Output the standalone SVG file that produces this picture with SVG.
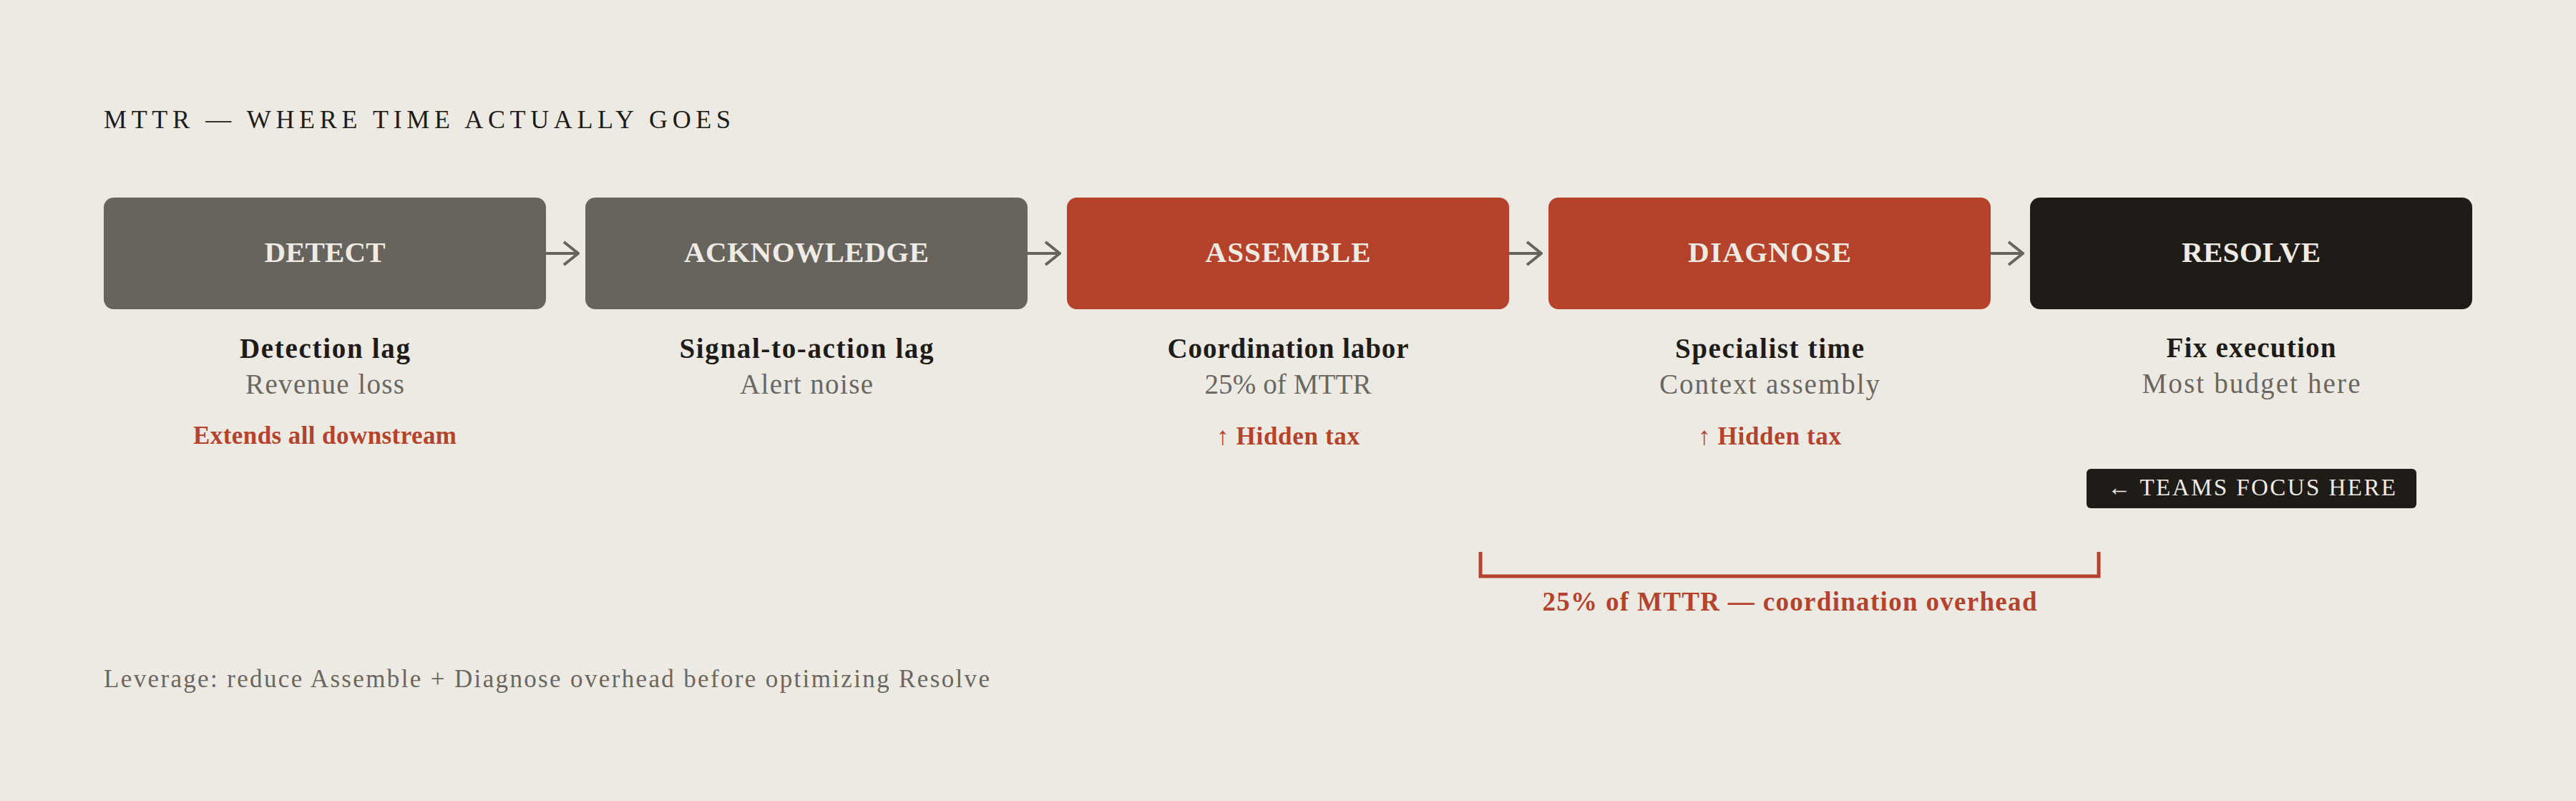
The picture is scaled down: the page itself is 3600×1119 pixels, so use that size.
<svg xmlns="http://www.w3.org/2000/svg" width="3600" height="1119" viewBox="0 0 3600 1119">
<defs>
<style>
text{font-family:"Liberation Serif","DejaVu Serif",serif}
.title{font-size:36px;fill:#1f1b16}
.box-grey{fill:#67635d}
.box-red{fill:#b5432b}
.box-dark{fill:#1f1b16}
.blabel{font-size:41px;font-weight:bold;fill:#efebe4;text-anchor:middle}
.head{font-size:39px;font-weight:bold;fill:#1f1b16;text-anchor:middle}
.sub{font-size:39px;fill:#6b6660;text-anchor:middle}
.note{font-size:35px;font-weight:bold;fill:#b5432b;text-anchor:middle}
.badge-t{font-size:33px;fill:#efebe4}
.brk-t{font-size:37px;font-weight:bold;fill:#b5432b;text-anchor:middle}
.foot{font-size:35px;fill:#6b6660}
.conn{stroke:#67635d;stroke-width:4;fill:none}
</style>
<marker id="chev" viewBox="0 0 24 36" refX="22" refY="18" markerWidth="24" markerHeight="36" markerUnits="userSpaceOnUse" orient="auto">
<path d="M2 2 L22 18 L2 34" fill="none" stroke="#67635d" stroke-width="4"/>
</marker>
</defs>
<rect width="3600" height="1119" fill="#edeae4"/>
<text class="title" x="145" y="179" textLength="876" lengthAdjust="spacing">MTTR — WHERE TIME ACTUALLY GOES</text>

<g id="connectors">
<line class="conn" x1="763" y1="354" x2="808" y2="354" marker-end="url(#chev)"/>
<line class="conn" x1="1436" y1="354" x2="1481" y2="354" marker-end="url(#chev)"/>
<line class="conn" x1="2109" y1="354" x2="2154" y2="354" marker-end="url(#chev)"/>
<line class="conn" x1="2782" y1="354" x2="2827" y2="354" marker-end="url(#chev)"/>
</g>

<g id="detect">
<rect class="box-grey" x="145" y="276" width="618" height="156" rx="14"/>
<text class="blabel" x="454" y="366" textLength="169" lengthAdjust="spacing">DETECT</text>
<text class="head" x="454" y="500" textLength="238" lengthAdjust="spacing">Detection lag</text>
<text class="sub" x="454" y="550" textLength="222" lengthAdjust="spacing">Revenue loss</text>
<text class="note" x="454" y="620" textLength="368" lengthAdjust="spacing">Extends all downstream</text>
</g>

<g id="acknowledge">
<rect class="box-grey" x="818" y="276" width="618" height="156" rx="14"/>
<text class="blabel" x="1127" y="366" textLength="342" lengthAdjust="spacing">ACKNOWLEDGE</text>
<text class="head" x="1127" y="500" textLength="355" lengthAdjust="spacing">Signal-to-action lag</text>
<text class="sub" x="1127" y="550" textLength="186" lengthAdjust="spacing">Alert noise</text>
</g>

<g id="assemble">
<rect class="box-red" x="1491" y="276" width="618" height="156" rx="14"/>
<text class="blabel" x="1800" y="366" textLength="231" lengthAdjust="spacing">ASSEMBLE</text>
<text class="head" x="1800" y="500" textLength="337" lengthAdjust="spacing">Coordination labor</text>
<text class="sub" x="1800" y="550" textLength="233" lengthAdjust="spacing">25% of MTTR</text>
<text class="note" x="1800" y="621" textLength="200" lengthAdjust="spacing">↑ Hidden tax</text>
</g>

<g id="diagnose">
<rect class="box-red" x="2164" y="276" width="618" height="156" rx="14"/>
<text class="blabel" x="2473" y="366" textLength="228" lengthAdjust="spacing">DIAGNOSE</text>
<text class="head" x="2473" y="500" textLength="264" lengthAdjust="spacing">Specialist time</text>
<text class="sub" x="2473" y="550" textLength="308" lengthAdjust="spacing">Context assembly</text>
<text class="note" x="2473" y="621" textLength="200" lengthAdjust="spacing">↑ Hidden tax</text>
</g>

<g id="resolve">
<rect class="box-dark" x="2837" y="276" width="618" height="156" rx="14"/>
<text class="blabel" x="3146" y="366" textLength="194" lengthAdjust="spacing">RESOLVE</text>
<text class="head" x="3146" y="499" textLength="237" lengthAdjust="spacing">Fix execution</text>
<text class="sub" x="3146" y="549" textLength="305" lengthAdjust="spacing">Most budget here</text>
</g>

<g id="teams-focus">
<rect class="box-dark" x="2916" y="655" width="461" height="55" rx="6"/>
<text class="badge-t" x="2945" y="692" textLength="403" lengthAdjust="spacing">← TEAMS FOCUS HERE</text>
</g>

<g id="overhead-bracket">
<path d="M2069 771 L2069 805 L2933 805 L2933 771" fill="none" stroke="#b5432b" stroke-width="5"/>
<text class="brk-t" x="2501" y="853" textLength="691" lengthAdjust="spacing">25% of MTTR — coordination overhead</text>
</g>

<text class="foot" x="145" y="960" textLength="1238" lengthAdjust="spacing">Leverage: reduce Assemble + Diagnose overhead before optimizing Resolve</text>
</svg>
